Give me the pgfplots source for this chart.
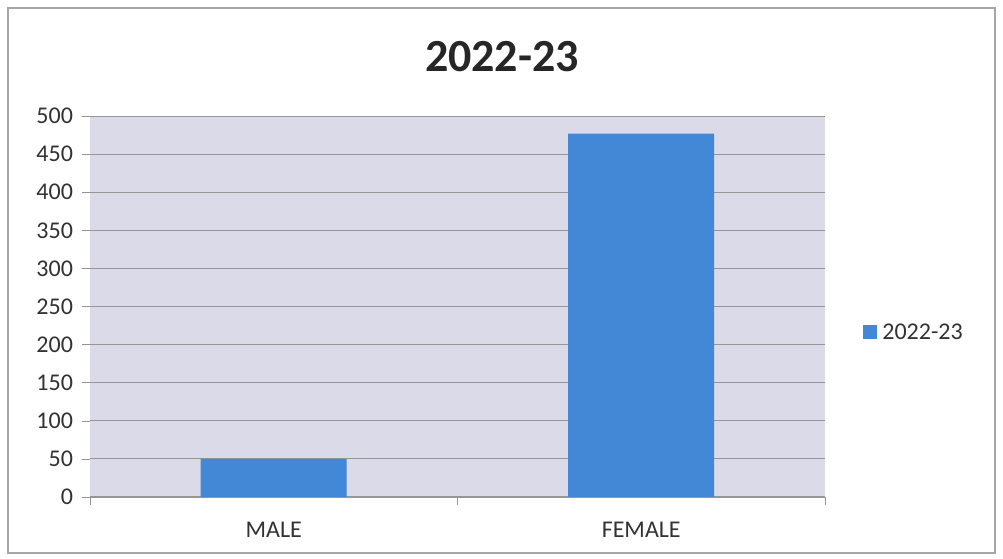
\documentclass[border=0pt]{standalone}
\usepackage{fontspec}
\setmainfont{Carlito}
\usepackage{pgfplots}
\pgfplotsset{compat=1.18}
\definecolor{barblue}{RGB}{66,136,214}
\definecolor{plotbg}{RGB}{218,218,232}
\definecolor{gridgray}{RGB}{150,150,150}
\definecolor{txt}{RGB}{50,50,50}
\begin{document}
\begin{tikzpicture}
% page: 1003x558 px at 0.5pt per px, origin at plot area's lower left
\path (-45pt,-30.5pt) rectangle (456.5pt,248.5pt);
\draw[gray!70, line width=0.8pt] (-41pt,-28pt) rectangle (452.5pt,244.5pt);
\begin{axis}[
  at={(0,0)}, anchor=south west,
  scale only axis,
  width=367.5pt, height=190.5pt,
  ybar, bar width=73pt,
  xmin=-0.5, xmax=1.5,
  ymin=0, ymax=500,
  xtick={-0.5,0.5,1.5}, xticklabels={},
  extra x ticks={0,1},
  extra x tick labels={MALE,FEMALE},
  extra x tick style={major tick length=0pt, xticklabel style={yshift=-9pt}},
  ytick distance=50,
  ymajorgrids,
  grid style={gridgray, line width=0.5pt},
  axis background/.style={fill=plotbg},
  axis x line*=bottom,
  axis y line*=left,
  axis line style={gridgray},
  x axis line style={-},
  y axis line style={-, draw=none},
  tick align=outside,
  tick style={gridgray},
  major tick length=4pt,
  tick label style={font=\fontsize{12}{14}\selectfont, text=txt},
  yticklabel style={xshift=-1pt},
  /pgf/number format/assume math mode=true,
  clip=false,
]
\addplot[fill=barblue, draw=none] coordinates {(0,50) (1,477)};
\end{axis}
\node[font=\fontsize{23}{27}\selectfont\bfseries, text=black!85] at (206pt,220pt) {2022-23};
\fill[barblue] (386.5pt,79pt) rectangle (393.5pt,86pt);
\node[anchor=west, font=\fontsize{12}{14}\selectfont, text=txt, inner sep=0pt] at (396pt,82.5pt) {2022-23};
\end{tikzpicture}
\end{document}
